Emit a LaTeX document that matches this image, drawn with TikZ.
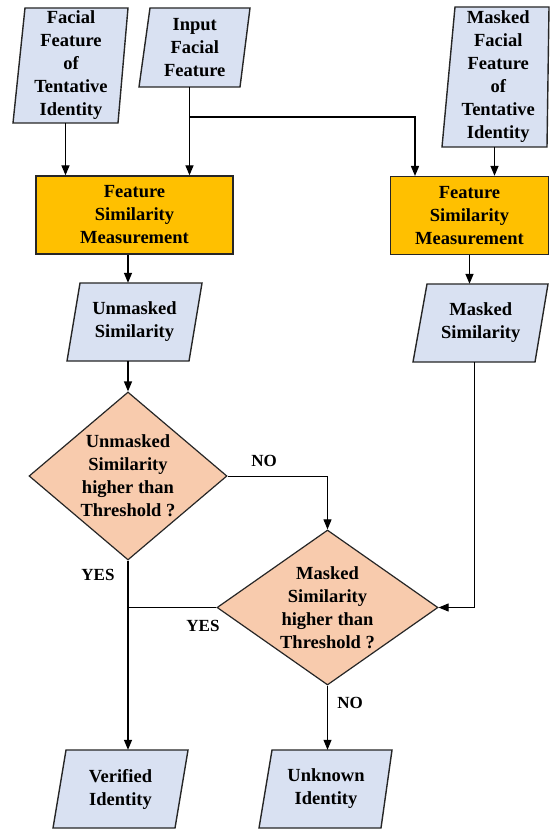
\documentclass[tikz,border=0pt]{standalone}
\usepackage{fontspec}
\setmainfont{Liberation Serif}
\usetikzlibrary{shapes.geometric,arrows.meta}
\definecolor{parafill}{HTML}{D9E1F2}
\definecolor{boxfill}{HTML}{FFC000}
\definecolor{diafill}{HTML}{F8CBAD}
\definecolor{edge}{HTML}{262626}
\tikzset{
 txt/.style={font=\bfseries\fontsize{18.5}{23}\selectfont, align=center, inner sep=0pt, text=black},
 parashape/.style={fill=parafill, draw=edge, line width=1.4pt, line join=miter},
 procbox/.style={txt, rectangle, fill=boxfill, draw=edge, line width=1.4pt, minimum width=197pt, minimum height=78pt},
 decis/.style={diamond, fill=diafill, draw=edge, line width=1.2pt, inner sep=0pt},
 arr/.style={line width=1.4pt, -{Triangle[length=10pt,width=8pt]}},
 thinarr/.style={line width=1pt, -{Triangle[length=10pt,width=8pt]}},
 thinline/.style={line width=1pt},
 lbl/.style={font=\bfseries\fontsize{17}{20}\selectfont, inner sep=0pt},
}
\newcommand\paranode[8]{%
 \draw[parashape] (#2,#6) -- (#3,#6) -- (#5,#7) -- (#4,#7) -- cycle;
 \node[txt, minimum height={(#7-#6)*1pt}] (#1) at ({(#2+#3+#4+#5)/4},{(#6+#7)/2}) {#8};
 \coordinate (#1-t) at ({(#2+#3)/2},#6);
 \coordinate (#1-b) at ({(#4+#5)/2},#7);
}
\begin{document}
\begin{tikzpicture}[x=1pt,y=-1pt]
\useasboundingbox (0,0) rectangle (550,829);
\fill[white] (0,0) rectangle (550,829);
\paranode{p1}{25}{128}{13}{118}{8}{123}{Facial\\Feature\\of\\Tentative\\Identity}
\paranode{p2}{150}{250}{139}{240}{8}{87}{Input\\Facial\\Feature}
\paranode{p3}{455}{549}{442}{547}{7}{147}{Masked\\Facial\\Feature\\of\\Tentative\\Identity}
\node[procbox] (b1) at (134.5,215) {Feature\\Similarity\\Measurement};
\node[procbox, minimum width=158pt] (b2) at (469.5,215.5) {Feature\\Similarity\\Measurement};
\paranode{us}{80}{202}{67}{189}{283}{361}{Unmasked\\Similarity}
\paranode{ms}{427}{548}{413}{535}{284}{362}{Masked\\Similarity}
\node[decis, minimum width=198pt, minimum height=168pt,
  label={[txt]center:{Unmasked\\Similarity\\higher than\\Threshold ?}}] (d1) at (128,476) {};
\node[decis, minimum width=221pt, minimum height=155pt,
  label={[txt]center:{Masked\\Similarity\\higher than\\Threshold ?}}] (d2) at (327.5,607.5) {};
\paranode{ver}{66}{188}{53}{175}{750}{828}{Verified\\Identity}
\paranode{unk}{272}{392}{259}{381}{750}{828}{Unknown\\Identity}
\coordinate (split) at (189.5,117);
\coordinate (b2in) at (415,176);
\draw[arr] (p1-b) -- (p1-b |- b1.north);
\draw[arr] (p2-b) -- (p2-b |- b1.north);
\draw[arr] (split) -| (b2in);
\draw[arr] (p3-b) -- (p3-b |- b2.north);
\draw[arr] (b1.south -| us-b) -- (us-b |- us.north);
\draw[arr] (b2.south) -- (b2.south |- ms.north);
\draw[arr] (us-b) -- (d1.north);
\draw[thinarr] (d1.east) -| (d2.north);
\draw[thinarr] (ms-b) |- (d2.east);
\draw[arr] (d1.south) -- (d1.south |- ver.north);
\draw[thinline] (d2.west) -- (d2.west -| d1.south);
\draw[thinarr] (d2.south) -- (d2.south |- unk.north);
\node[lbl] (no1) at (264,461) {NO};
\node[lbl] (yes1) at (98,575) {YES};
\node[lbl] (yes2) at (203,626) {YES};
\node[lbl] (no2) at (350,703) {NO};
\end{tikzpicture}
\end{document}
